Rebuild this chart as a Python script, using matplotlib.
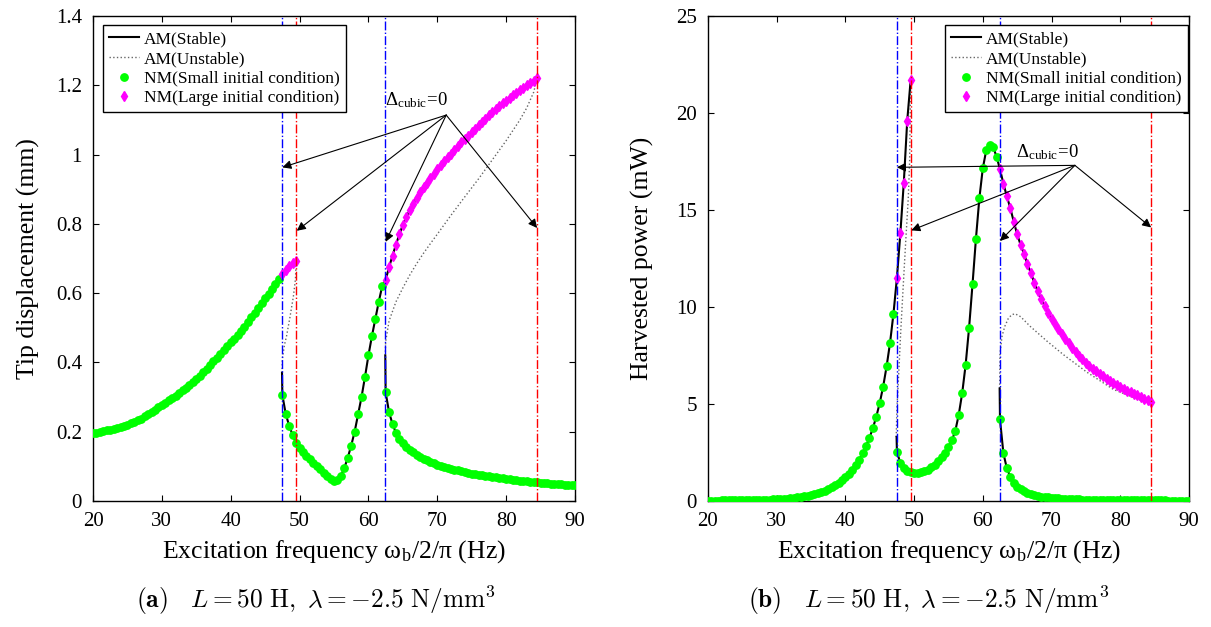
import numpy as np
import matplotlib
matplotlib.use('Agg')
import matplotlib.pyplot as plt
from matplotlib.ticker import FuncFormatter

plt.rcParams['font.family'] = 'serif'
plt.rcParams['font.serif'] = ['Liberation Serif', 'DejaVu Serif']
plt.rcParams['mathtext.fontset'] = 'stix'

# ---------------------------------------------------------------------- #
# Data
# ---------------------------------------------------------------------- #
# frequency sweep of the numerical (NM) runs, Hz
f_up = np.arange(20.0, 47.01, 0.5)     # upper branch, small IC
f_mid = np.arange(47.5, 62.01, 0.5)    # between the two resonances
f_low = np.arange(62.5, 90.01, 0.5)    # lower branch after 2nd jump
f_big1 = np.arange(47.5, 49.51, 0.5)   # large IC, 1st overhang
f_big2 = np.arange(62.5, 84.51, 0.5)   # large IC, 2nd overhang

# (a) tip displacement, mm
disp_up = [0.195, 0.197, 0.199, 0.201, 0.204, 0.206, 0.209, 0.211, 0.214, 0.217,
           0.220, 0.224, 0.228, 0.233, 0.238, 0.244, 0.250, 0.256, 0.263, 0.271,
           0.278, 0.284, 0.291, 0.297, 0.304, 0.312, 0.320, 0.327, 0.335, 0.343,
           0.352, 0.362, 0.372, 0.382, 0.393, 0.403, 0.414, 0.425, 0.436, 0.447,
           0.458, 0.469, 0.480, 0.491, 0.502, 0.516, 0.530, 0.544, 0.558, 0.571,
           0.585, 0.598, 0.612, 0.626, 0.640]
disp_mid = [0.306, 0.250, 0.217, 0.190, 0.167, 0.153, 0.142, 0.131, 0.121, 0.111,
            0.101, 0.092, 0.082, 0.073, 0.064, 0.059, 0.061, 0.073, 0.095, 0.125,
            0.160, 0.200, 0.250, 0.300, 0.358, 0.420, 0.475, 0.525, 0.575, 0.620]
disp_low = [0.314, 0.256, 0.222, 0.197, 0.180, 0.166, 0.155, 0.147, 0.140, 0.133,
            0.127, 0.122, 0.117, 0.113, 0.109, 0.105, 0.102, 0.099, 0.096, 0.093,
            0.090, 0.088, 0.086, 0.083, 0.081, 0.079, 0.077, 0.076, 0.074, 0.072,
            0.071, 0.069, 0.068, 0.066, 0.065, 0.064, 0.063, 0.061, 0.060, 0.059,
            0.058, 0.057, 0.056, 0.055, 0.054, 0.053, 0.052, 0.051, 0.050, 0.049,
            0.048, 0.048, 0.047, 0.046, 0.045, 0.045]
disp_big1 = [0.655, 0.668, 0.679, 0.687, 0.692]
disp_big2 = [0.638, 0.675, 0.708, 0.740, 0.770, 0.797, 0.819, 0.840, 0.858, 0.876,
             0.891, 0.905, 0.919, 0.932, 0.945, 0.957, 0.969, 0.980, 0.992, 1.003,
             1.014, 1.025, 1.035, 1.045, 1.055, 1.065, 1.075, 1.085, 1.094, 1.103,
             1.113, 1.122, 1.131, 1.140, 1.148, 1.156, 1.164, 1.171, 1.178, 1.185,
             1.193, 1.200, 1.207, 1.213, 1.220]
# analytical unstable branches
f_uns_a_disp = [47.45, 47.5, 47.8, 48.1, 48.6, 49.1, 49.4, 49.5]
disp_uns_a = [0.37, 0.41, 0.45, 0.475, 0.53, 0.59, 0.64, 0.692]
f_uns_b_disp = [62.45, 62.5, 63, 64, 65, 66, 67, 68, 69, 70, 72, 74, 76, 78, 80,
                82, 83, 84, 84.5]
disp_uns_b = [0.42, 0.46, 0.52, 0.575, 0.615, 0.652, 0.685, 0.715, 0.743, 0.77,
              0.825, 0.878, 0.93, 0.985, 1.04, 1.10, 1.135, 1.18, 1.22]

# (b) harvested power, mW
pow_up = [0.020, 0.021, 0.022, 0.024, 0.025, 0.027, 0.029, 0.031, 0.033, 0.036,
          0.039, 0.042, 0.045, 0.049, 0.053, 0.058, 0.063, 0.069, 0.075, 0.082,
          0.090, 0.100, 0.110, 0.125, 0.140, 0.160, 0.180, 0.205, 0.235, 0.270,
          0.310, 0.350, 0.400, 0.460, 0.530, 0.610, 0.700, 0.800, 0.920, 1.060,
          1.220, 1.400, 1.610, 1.850, 2.130, 2.450, 2.820, 3.250, 3.750, 4.350,
          5.050, 5.900, 6.940, 8.150, 9.660]
pow_mid = [2.55, 1.95, 1.68, 1.55, 1.48, 1.45, 1.45, 1.47, 1.53, 1.62,
           1.74, 1.88, 2.05, 2.25, 2.48, 2.76, 3.12, 3.62, 4.45, 5.56,
           7.02, 8.92, 11.16, 13.52, 15.61, 17.15, 18.08, 18.35, 18.25, 17.75]
pow_low = [4.20, 2.45, 1.68, 1.25, 0.95, 0.74, 0.60, 0.49, 0.41, 0.35,
           0.30, 0.26, 0.23, 0.20, 0.18, 0.16, 0.145, 0.13, 0.12, 0.11,
           0.10, 0.093, 0.086, 0.080, 0.075, 0.070, 0.066, 0.062, 0.058, 0.055,
           0.052, 0.049, 0.047, 0.045, 0.043, 0.041, 0.039, 0.037, 0.036, 0.034,
           0.033, 0.032, 0.031, 0.030, 0.029, 0.028, 0.027, 0.026, 0.025, 0.024,
           0.024, 0.023, 0.022, 0.022, 0.021, 0.021]
pow_big1 = [11.5, 13.8, 16.4, 19.6, 21.7]
pow_big2 = [17.10, 16.35, 15.70, 15.10, 14.40, 13.75, 13.20, 12.75, 12.20, 11.75,
            11.25, 10.80, 10.40, 10.05, 9.70, 9.40, 9.12, 8.86, 8.60, 8.35,
            8.12, 7.90, 7.68, 7.48, 7.30, 7.12, 6.95, 6.80, 6.68, 6.55,
            6.42, 6.30, 6.18, 6.07, 5.97, 5.87, 5.78, 5.69, 5.61, 5.52,
            5.44, 5.36, 5.28, 5.20, 5.12]
f_uns_a_pow = [47.4, 47.5, 47.7, 48.05, 48.42, 48.8, 49.15, 49.35, 49.5]
pow_uns_a = [3.3, 4.8, 6.1, 8.7, 11.1, 13.5, 15.6, 17.5, 21.7]
f_uns_b_pow = [62.45, 62.5, 62.8, 63.2, 63.7, 64.2, 64.7, 65.5, 66.9, 69.3, 71.7,
               75.1, 79.0, 82.9, 84.5]
pow_uns_b = [5.8, 7.6, 8.5, 9.0, 9.4, 9.6, 9.65, 9.5, 9.0, 8.25, 7.55, 6.65, 5.75,
             5.2, 5.12]

# saddle-node (turning) points of the lower stable branches
f_turn = [47.45, 62.45]
disp_turn = [0.37, 0.42]
pow_turn = [3.3, 5.8]

# Delta_cubic = 0 lines
f_blue = [47.45, 62.45]
f_red = [49.5, 84.5]

# annotation: text anchor, arrow source and arrow tips
disp_note = (62.4, 1.13)
disp_src = (71.3, 1.114)
disp_tips = [(47.5, 0.963), (49.6, 0.78), (62.5, 0.748), (84.5, 0.788)]
pow_note = (64.9, 17.45)
pow_src = (73.4, 17.3)
pow_tips = [(47.5, 17.2), (49.6, 13.95), (62.5, 13.4), (84.5, 14.1)]


def draw_panel(ax, up, mid, low, big1, big2, turn, ua_f, ua, ub_f, ub,
               note, src, tips, legend_anchor, legend_loc):
    # analytical stable branches
    st1_f = np.concatenate([f_up, f_big1])
    st1 = np.concatenate([up, big1])
    st2_f = np.concatenate([[f_turn[0]], f_mid, f_big2])
    st2 = np.concatenate([[turn[0]], mid, big2])
    st3_f = np.concatenate([[f_turn[1]], f_low])
    st3 = np.concatenate([[turn[1]], low])
    ax.plot(st1_f, st1, 'k-', lw=1.5, zorder=3, label='AM(Stable)')
    ax.plot(st2_f, st2, 'k-', lw=1.5, zorder=3)
    ax.plot(st3_f, st3, 'k-', lw=1.5, zorder=3)
    ax.plot(ua_f, ua, ':', color='0.4', lw=1.0, zorder=2, label='AM(Unstable)')
    ax.plot(ub_f, ub, ':', color='0.4', lw=1.0, zorder=2)

    # numerical sweeps
    small_f = np.concatenate([f_up, f_mid, f_low])
    small = np.concatenate([up, mid, low])
    ax.plot(small_f, small, 'o', color='#00ff00', mec='#00ff00', ms=5.3,
            ls='none', zorder=4, label='NM(Small initial condition)')
    big_f = np.concatenate([f_big1, f_big2])
    big = np.concatenate([big1, big2])
    ax.plot(big_f, big, 'd', color='#ff00ff', mec='#ff00ff', ms=5.0,
            ls='none', zorder=4, label='NM(Large initial condition)')

    for f in f_blue:
        ax.axvline(f, color='#0000ff', ls='-.', lw=1.0, zorder=5)
    for f in f_red:
        ax.axvline(f, color='#ff0000', ls='-.', lw=1.0, zorder=5)

    ax.text(note[0], note[1], 'Δ$_{\\mathregular{cubic}}$=0', fontsize=13.5,
            ha='left', va='bottom', zorder=6)
    for tip in tips:
        ax.annotate('', xy=tip, xytext=src, zorder=6,
                    arrowprops=dict(arrowstyle='-|>', color='k', lw=0.8,
                                    shrinkA=0, shrinkB=0, mutation_scale=13))

    ax.set_xlim(20, 90)
    ax.set_xticks(range(20, 91, 10))
    ax.tick_params(direction='in', top=True, right=True, length=4,
                   labelsize=15, width=0.8, pad=8)
    for s in ax.spines.values():
        s.set_linewidth(1.0)
    ax.set_xlabel('Excitation frequency ω$_\\mathregular{b}$/2/π (Hz)',
                  fontsize=18.5, labelpad=5)
    leg = ax.legend(loc=legend_loc, bbox_to_anchor=legend_anchor,
                    borderaxespad=0, fontsize=12.5, frameon=True, fancybox=False,
                    edgecolor='k', framealpha=1, numpoints=1, handlelength=1.7,
                    handletextpad=0.3, labelspacing=0.2, borderpad=0.35)
    leg.get_frame().set_linewidth(1.0)
    leg.set_zorder(10)


fig = plt.figure(figsize=(12.11, 6.27), dpi=100)
ax1 = fig.add_axes([0.0768, 0.2010, 0.3980, 0.7735])
ax2 = fig.add_axes([0.5846, 0.2010, 0.3972, 0.7735])

draw_panel(ax1, disp_up, disp_mid, disp_low, disp_big1, disp_big2, disp_turn,
           f_uns_a_disp, disp_uns_a, f_uns_b_disp, disp_uns_b,
           disp_note, disp_src, disp_tips, (0.0207, 0.981), 'upper left')
ax1.set_ylim(0, 1.4)
ax1.set_yticks(np.arange(0, 1.41, 0.2))
ax1.yaxis.set_major_formatter(FuncFormatter(lambda v, p: '%g' % round(v, 2)))
ax1.set_ylabel('Tip displacement (mm)', fontsize=18.5, labelpad=11)

draw_panel(ax2, pow_up, pow_mid, pow_low, pow_big1, pow_big2, pow_turn,
           f_uns_a_pow, pow_uns_a, f_uns_b_pow, pow_uns_b,
           pow_note, pow_src, pow_tips, (0.998, 0.981), 'upper right')
ax2.set_ylim(0, 25)
ax2.set_yticks(range(0, 26, 5))
ax2.set_ylabel('Harvested power (mW)', fontsize=18.5, labelpad=16)

cap = r'$\mathbf{(%s)}\quad L = 50\ \mathrm{H},\ \lambda = -2.5\ \mathrm{N/mm}^3$'
fig.text(0.261, 0.043, cap % 'a', ha='center', va='center', fontsize=18.3,
         math_fontfamily='cm')
fig.text(0.767, 0.043, cap % 'b', ha='center', va='center', fontsize=18.3,
         math_fontfamily='cm')

fig.savefig('out.png', dpi=100)
